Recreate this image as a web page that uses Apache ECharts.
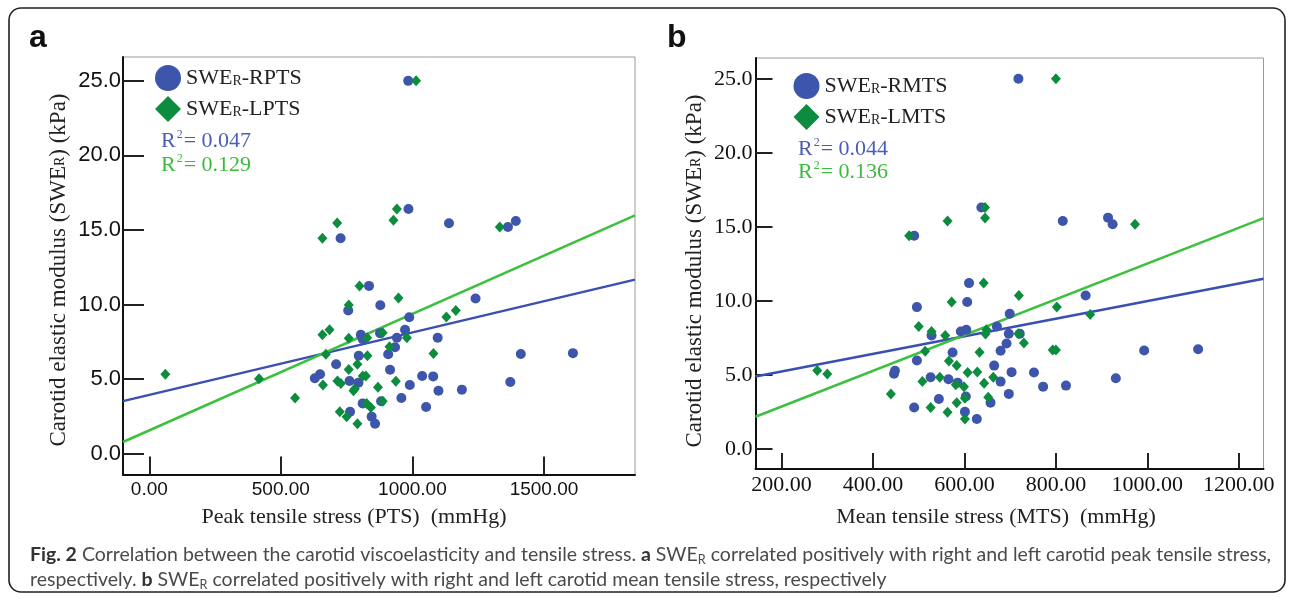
<!DOCTYPE html>
<html><head><meta charset="utf-8">
<script src="https://cdn.jsdelivr.net/npm/echarts@6/dist/echarts.min.js"></script>
<style>html,body{margin:0;padding:0;background:#fff}#c{width:1293px;height:601px}</style>
</head><body><div id="c"></div>
<script>
// ---------- Panel a: SWE_R vs peak tensile stress (mmHg, kPa)
const rptsA = [[984,25.0],[985,16.4],[1139,15.45],[1363,15.2],[1393,15.6],[727,14.45],[835,11.25],[1240,10.4],[878,9.95],[756,9.6],[988,9.15],[972,8.3],[877,8.08],[804,7.97],[811,7.68],[941,7.77],[1096,7.77],[934,7.13],[908,6.66],[796,6.56],[1412,6.68],[1610,6.74],[710,6.0],[915,5.63],[649,5.32],[629,5.05],[1037,5.2],[1079,5.18],[761,4.87],[795,4.76],[990,4.6],[1099,4.22],[1188,4.29],[1372,4.8],[958,3.73],[811,3.37],[881,3.51],[1052,3.13],[763,2.81],[845,2.48],[858,2.0]];
const lptsA = [[1014,25.0],[941,16.4],[928,15.65],[714,15.47],[1332,15.2],[658,14.45],[799,11.25],[947,10.43],[758,9.96],[1165,9.6],[1129,9.16],[685,8.3],[658,7.97],[887,8.1],[758,7.73],[828,7.77],[979,7.77],[913,7.17],[671,6.66],[829,6.56],[1080,6.72],[791,5.99],[758,5.65],[61,5.32],[417,5.02],[811,5.2],[823,5.2],[715,4.87],[728,4.71],[660,4.6],[937,4.85],[869,4.45],[776,4.22],[781,4.35],[554,3.73],[826,3.37],[887,3.51],[842,3.1],[724,2.81],[750,2.48],[791,2.01]];
const fitA_R = [[-100,3.52],[1846,11.67]];
const fitA_L = [[-100,0.78],[1846,15.98]];
const r2A = ['0.047','0.129'];
// ---------- Panel b: SWE_R vs mean tensile stress
const rmtsB = [[718,25.0],[637,16.31],[815,15.4],[914,15.62],[924,15.17],[490,14.4],[610,11.2],[865,10.37],[606,9.92],[496,9.58],[699,9.13],[671,8.27],[528,7.66],[592,7.93],[604,8.05],[697,7.78],[721,7.78],[692,7.12],[574,6.51],[679,6.63],[993,6.65],[1111,6.74],[496,5.97],[665,5.63],[446,5.08],[448,5.28],[703,5.19],[752,5.16],[526,4.85],[565,4.71],[585,4.48],[679,4.55],[772,4.21],[822,4.28],[931,4.78],[697,3.72],[657,3.13],[603,3.54],[544,3.38],[490,2.8],[601,2.52],[627,2.03]];
const lmtsB = [[800,25.0],[645,16.31],[645,15.6],[563,15.4],[973,15.17],[479,14.4],[642,11.2],[719,10.37],[572,9.92],[802,9.58],[875,9.08],[500,8.27],[528,7.93],[558,7.66],[648,8.05],[646,7.76],[718,7.78],[730,7.15],[514,6.6],[633,6.54],[793,6.69],[800,6.69],[566,5.95],[583,5.63],[607,5.16],[628,5.2],[278,5.3],[300,5.07],[663,4.85],[508,4.55],[546,4.85],[581,4.33],[599,4.21],[643,4.44],[439,3.72],[652,3.5],[601,3.43],[583,3.13],[526,2.8],[563,2.48],[601,2.03]];
const fitB_R = [[143,4.9],[1254,11.49]];
const fitB_L = [[143,2.18],[1254,15.59]];
const r2B = ['0.044','0.136'];
// ---------- ticks
const yTicks = [0,5,10,15,20,25];
const xTicksA = [0,500,1000,1500];
const xTicksB = [200,400,600,800,1000,1200];

const BLUE='#3D55AA', GREEN='#0C8C3E', BLUE_LINE='#3A4FB2', GREEN_LINE='#3DC03D';
const SERIF='"Liberation Serif", "Times New Roman", serif';
const SANS='"Liberation Sans", Arial, sans-serif';
const CAPF='Lato, "Noto Sans", sans-serif';

const cap1 = ['{b|Fig. 2}','{n| Correlation between the carotid viscoelasticity and tensile stress. }','{b|a}','{n| SWE}','{s|R}','{n| correlated positively with right and left carotid peak tensile stress,}'];
const cap2 = ['{n|respectively. }','{b|b}','{n| SWE}','{s|R}','{n| correlated positively with right and left carotid mean tensile stress, respectively}'];

// fit caption font size so line 1 spans the figure width as in the reference
function capSize(){
  const ctx = document.createElement('canvas').getContext('2d');
  const base = 17; let w = 0;
  cap1.forEach(p=>{
    const m = p.match(/^\{(\w)\|(.*)\}$/);
    const sz = m[1]==='s' ? base*0.65 : base;
    ctx.font = (m[1]==='b'?'bold ':'') + sz + 'px ' + CAPF;
    w += ctx.measureText(m[2]).width;
  });
  return base * 1242 / w;
}
const CS = capSize();

const chart = echarts.init(document.getElementById('c'), null, {renderer:'canvas'});

function xAxis(idx, min, max, ticks, font, tickLen, margin){
  return {type:'value', gridIndex:idx, min, max,
    axisLine:{show:true, onZero:false, lineStyle:{color:'#111', width:2}},
    axisTick:{show:true, inside:true, length:tickLen, customValues:ticks, lineStyle:{color:'#222', width:2}},
    axisLabel:{customValues:ticks, margin, color:'#111', fontFamily:font.family, fontSize:font.size, formatter:v=>v.toFixed(2)},
    splitLine:{show:false}};
}
function yAxis(idx, ticks, font, tickLen, margin, min, max){
  return {type:'value', gridIndex:idx, min, max,
    axisLine:{show:true, onZero:false, lineStyle:{color:'#111', width:2}},
    axisTick:{show:true, inside:true, length:tickLen, customValues:ticks, lineStyle:{color:'#222', width:2}},
    axisLabel:{customValues:ticks, margin, color:'#111', fontFamily:font.family, fontSize:font.size, formatter:v=>v.toFixed(1)},
    splitLine:{show:false}};
}
function scatter(name, data, xi, sym, color, size){
  return {type:'scatter', name, data, xAxisIndex:xi, yAxisIndex:xi, symbol:sym, symbolSize:size,
    itemStyle:{color, opacity:1}, silent:true, z:3};
}
function fit(data, xi, color){
  return {type:'line', data, xAxisIndex:xi, yAxisIndex:xi, symbol:'none', silent:true,
    lineStyle:{color, width:2.5}, z:2};
}
const legRich = {s:{fontFamily:SERIF, fontSize:14, color:'#222', verticalAlign:'bottom', lineHeight:26, padding:[0,0,3,0]}};
function legend(left, top, names){
  return {left, top, orient:'vertical', padding:0, itemWidth:26, itemHeight:26, itemGap:5, selectedMode:false,
    data:names, formatter:n=>'SWE{s|R}'+n.slice(4),
    textStyle:{fontFamily:SERIF, fontSize:22, color:'#222', rich:legRich}};
}
const subRich = (fs)=>({s:{fontFamily:SERIF, fontSize:fs, fill:'#222', verticalAlign:'bottom', lineHeight:26, padding:[0,0,3,0]}, n:{fontFamily:SERIF, fontSize:fs+9, fill:'#222', verticalAlign:'bottom', lineHeight:26}});
function r2text(x,y,val,color){
  return {type:'text', x, y, silent:true, style:{text:'{n|R}{p|2}{n|= '+val+'}', align:'left', verticalAlign:'middle',
    rich:{n:{fontFamily:SERIF, fontSize:22, fill:color, verticalAlign:'middle', lineHeight:24}, p:{fontFamily:SERIF, fontSize:12, fill:color, verticalAlign:'top', lineHeight:24, padding:[0,1,0,1]}}}};
}

const capRich = {
  n:{fontFamily:CAPF, fontSize:CS, fill:'#4a4a4a', verticalAlign:'middle', lineHeight:22},
  b:{fontFamily:CAPF, fontSize:CS, fontWeight:'bold', fill:'#333', verticalAlign:'middle', lineHeight:22},
  s:{fontFamily:CAPF, fontSize:CS*0.65, fill:'#4a4a4a', verticalAlign:'bottom', lineHeight:22}
};

chart.setOption({
  animation:false,
  backgroundColor:'#fff',
  grid:[
    {left:123, right:1293-635, top:57, bottom:601-474.5, show:true, borderColor:'#9a9a9a', borderWidth:1},
    {left:755.5, right:1293-1263.5, top:58, bottom:601-469, show:true, borderColor:'#9a9a9a', borderWidth:1}
  ],
  xAxis:[
    xAxis(0, -100, 1846, xTicksA, {family:SANS, size:19}, 18, 6),
    xAxis(1, 143, 1254, xTicksB, {family:SERIF, size:22}, 16, 5)
  ],
  yAxis:[
    yAxis(0, yTicks, {family:SANS, size:22}, 21, 2, -1.4, 26.6),
    yAxis(1, yTicks, {family:SERIF, size:22}, 17, 3, -1.35, 26.4)
  ],
  legend:[
    legend(155, 65, ['SWER-RPTS','SWER-LPTS']),
    legend(793.5, 73, ['SWER-RMTS','SWER-LMTS'])
  ],
  series:[
    fit(fitA_R, 0, BLUE_LINE), fit(fitA_L, 0, GREEN_LINE),
    scatter('SWER-RPTS', rptsA, 0, 'circle', BLUE, 10),
    scatter('SWER-LPTS', lptsA, 0, 'diamond', GREEN, [10,11]),
    fit(fitB_R, 1, BLUE_LINE), fit(fitB_L, 1, GREEN_LINE),
    scatter('SWER-RMTS', rmtsB, 1, 'circle', BLUE, 10),
    scatter('SWER-LMTS', lmtsB, 1, 'diamond', GREEN, [10,11])
  ],
  graphic:[
    {type:'rect', silent:true, shape:{x:9, y:8, width:1276, height:584, r:12}, style:{fill:'none', stroke:'#222', lineWidth:1.6}},
    {type:'text', x:29, y:38, silent:true, style:{text:'a', fontFamily:SANS, fontSize:32, fontWeight:'bold', fill:'#111', align:'left', verticalAlign:'middle'}},
    {type:'text', x:667, y:38, silent:true, style:{text:'b', fontFamily:SANS, fontSize:32, fontWeight:'bold', fill:'#111', align:'left', verticalAlign:'middle'}},
    {type:'text', x:57, y:270, rotation:Math.PI/2, silent:true, style:{text:'{n|Carotid elastic modulus (SWE}{s|R}{n|) (kPa)}', align:'center', verticalAlign:'middle', rich:subRich(14)}},
    {type:'text', x:693, y:271, rotation:Math.PI/2, silent:true, style:{text:'{n|Carotid elastic modulus (SWE}{s|R}{n|) (kPa)}', align:'center', verticalAlign:'middle', rich:subRich(14)}},
    {type:'text', x:354, y:517, silent:true, style:{text:'Peak tensile stress (PTS)  (mmHg)', fontFamily:SERIF, fontSize:22, fill:'#222', align:'center', verticalAlign:'middle'}},
    {type:'text', x:996, y:517, silent:true, style:{text:'Mean tensile stress (MTS)  (mmHg)', fontFamily:SERIF, fontSize:22, fill:'#222', align:'center', verticalAlign:'middle'}},
    r2text(161, 141, r2A[0], '#4A5DB8'),
    r2text(161, 165, r2A[1], '#3CBB3C'),
    r2text(798, 149, r2B[0], '#4A5DB8'),
    r2text(798, 172, r2B[1], '#3CBB3C'),
    {type:'text', x:30, y:555, silent:true, style:{align:'left', verticalAlign:'middle', rich:capRich, text:cap1.join('')}},
    {type:'text', x:30, y:580, silent:true, style:{align:'left', verticalAlign:'middle', rich:capRich, text:cap2.join('')}}
  ]
});
</script>
</body></html>
